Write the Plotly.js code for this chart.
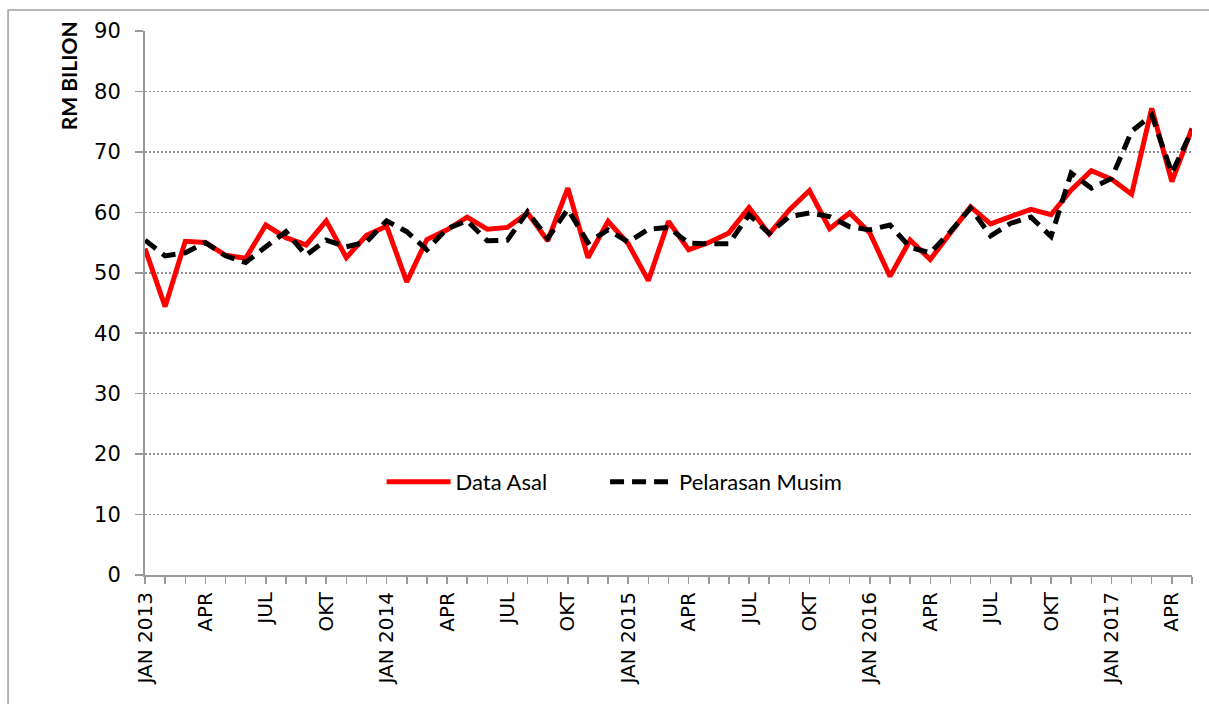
<!DOCTYPE html>
<html>
<head>
<meta charset="utf-8">
<script src="https://cdn.plot.ly/plotly-3.0.1.min.js"></script>
<style>
  html, body { margin: 0; padding: 0; background: #ffffff; }
  #chart { width: 1209px; height: 704px; }
</style>
</head>
<body>
<div id="chart"></div>
<script>
// Months (Jan 2013 - May 2017)
const months = [
  "JAN 2013","FEB 2013","MAC 2013","APR 2013","MEI 2013","JUN 2013","JUL 2013","OGO 2013","SEP 2013","OKT 2013","NOV 2013","DIS 2013",
  "JAN 2014","FEB 2014","MAC 2014","APR 2014","MEI 2014","JUN 2014","JUL 2014","OGO 2014","SEP 2014","OKT 2014","NOV 2014","DIS 2014",
  "JAN 2015","FEB 2015","MAC 2015","APR 2015","MEI 2015","JUN 2015","JUL 2015","OGO 2015","SEP 2015","OKT 2015","NOV 2015","DIS 2015",
  "JAN 2016","FEB 2016","MAC 2016","APR 2016","MEI 2016","JUN 2016","JUL 2016","OGO 2016","SEP 2016","OKT 2016","NOV 2016","DIS 2016",
  "JAN 2017","FEB 2017","MAC 2017","APR 2017","MEI 2017"
];

// Tick labels shown on the axis (every third month)
const tickLabels = [
  "JAN 2013","","","APR","","","JUL","","","OKT","","",
  "JAN 2014","","","APR","","","JUL","","","OKT","","",
  "JAN 2015","","","APR","","","JUL","","","OKT","","",
  "JAN 2016","","","APR","","","JUL","","","OKT","","",
  "JAN 2017","","","APR",""
];

// Data Asal (original data), RM billion
const dataAsal = [
  54.0,44.4,55.2,55.0,52.9,52.4,57.9,55.8,54.6,58.6,52.5,56.2,
  57.7,48.5,55.5,57.1,59.2,57.2,57.5,59.9,55.3,64.0,52.5,58.5,
  54.8,48.7,58.5,53.8,55.0,56.6,60.8,56.4,60.4,63.6,57.3,59.9,
  56.6,49.4,55.4,52.2,56.6,60.9,58.1,59.3,60.5,59.6,63.7,66.9,
  65.5,63.0,77.2,65.1,73.9
];

// Pelarasan Musim (seasonally adjusted), RM billion
const pelarasanMusim = [
  55.4,52.8,53.3,55.0,52.8,51.7,54.3,56.8,52.9,55.4,54.3,55.1,
  58.6,56.8,53.8,57.3,58.6,55.3,55.4,60.1,55.7,60.5,55.0,57.1,
  55.1,57.2,57.5,54.9,54.8,54.8,59.6,56.5,59.3,59.9,59.3,57.6,
  57.1,57.9,54.2,53.3,56.8,60.7,56.1,58.2,59.2,56.0,66.5,64.0,
  65.6,73.4,76.1,66.5,73.6
];

const yTicks = [0,10,20,30,40,50,60,70,80,90];

const traces = [
  {
    x: months, y: dataAsal, type: "scatter", mode: "lines",
    name: "Data Asal", legend: "legend",
    line: { color: "#ff0000", width: 5 }
  },
  {
    x: months, y: pelarasanMusim, type: "scatter", mode: "lines",
    name: "Pelarasan Musim", legend: "legend2",
    line: { color: "#000000", width: 5, dash: "14px,8px" }
  }
];

const legendFont = { family: "Lato, 'Open Sans', sans-serif", size: 22, color: "#000000" };

const layout = {
  width: 1209, height: 704,
  margin: { l: 145, r: 17, t: 31, b: 129 },
  paper_bgcolor: "#ffffff", plot_bgcolor: "#ffffff",
  showlegend: true,
  legend: {
    orientation: "h", x: 0.226, xanchor: "left", y: 0.171, yanchor: "middle",
    font: legendFont, bgcolor: "rgba(0,0,0,0)", itemwidth: 64
  },
  legend2: {
    orientation: "h", x: 0.4394, xanchor: "left", y: 0.171, yanchor: "middle",
    font: legendFont, bgcolor: "rgba(0,0,0,0)", itemwidth: 64
  },
  xaxis: {
    type: "category",
    range: [0, months.length - 1],
    tickmode: "array", tickvals: months, ticktext: tickLabels,
    tickangle: -90,
    tickfont: { family: "'DejaVu Sans', sans-serif", size: 20, color: "#000000" },
    ticks: "outside", ticklen: 7, tickcolor: "#9a9a9a", tickwidth: 1.5,
    showline: true, linecolor: "#9a9a9a", linewidth: 2,
    showgrid: false, zeroline: false, fixedrange: true
  },
  yaxis: {
    range: [0, 90],
    tickmode: "array", tickvals: yTicks,
    tickfont: { family: "'DejaVu Sans', sans-serif", size: 21, color: "#000000" },
    ticks: "outside", ticklen: 8, tickcolor: "#9a9a9a", tickwidth: 1.5,
    ticklabelstandoff: 10,
    showline: true, linecolor: "#9a9a9a", linewidth: 2,
    showgrid: true, gridcolor: "#909090", griddash: "1.5px,2.5px", gridwidth: 1.5,
    zeroline: false, fixedrange: true
  },
  annotations: [
    {
      text: "<b>RM BILION</b>", xref: "paper", yref: "paper",
      x: -0.073, y: 0.918, xanchor: "center", yanchor: "middle",
      textangle: -90, showarrow: false,
      font: { family: "Lato, 'Open Sans', sans-serif", size: 21, color: "#000000" }
    }
  ],
  shapes: [
    {
      type: "path", xref: "paper", yref: "paper",
      path: "M -0.1308,-0.5 L -0.1308,1.0386 L 1.1,1.0386",
      line: { color: "#a0a0a0", width: 1.5 }
    }
  ]
};

Plotly.newPlot("chart", traces, layout, { displayModeBar: false, staticPlot: true });
</script>
</body>
</html>
